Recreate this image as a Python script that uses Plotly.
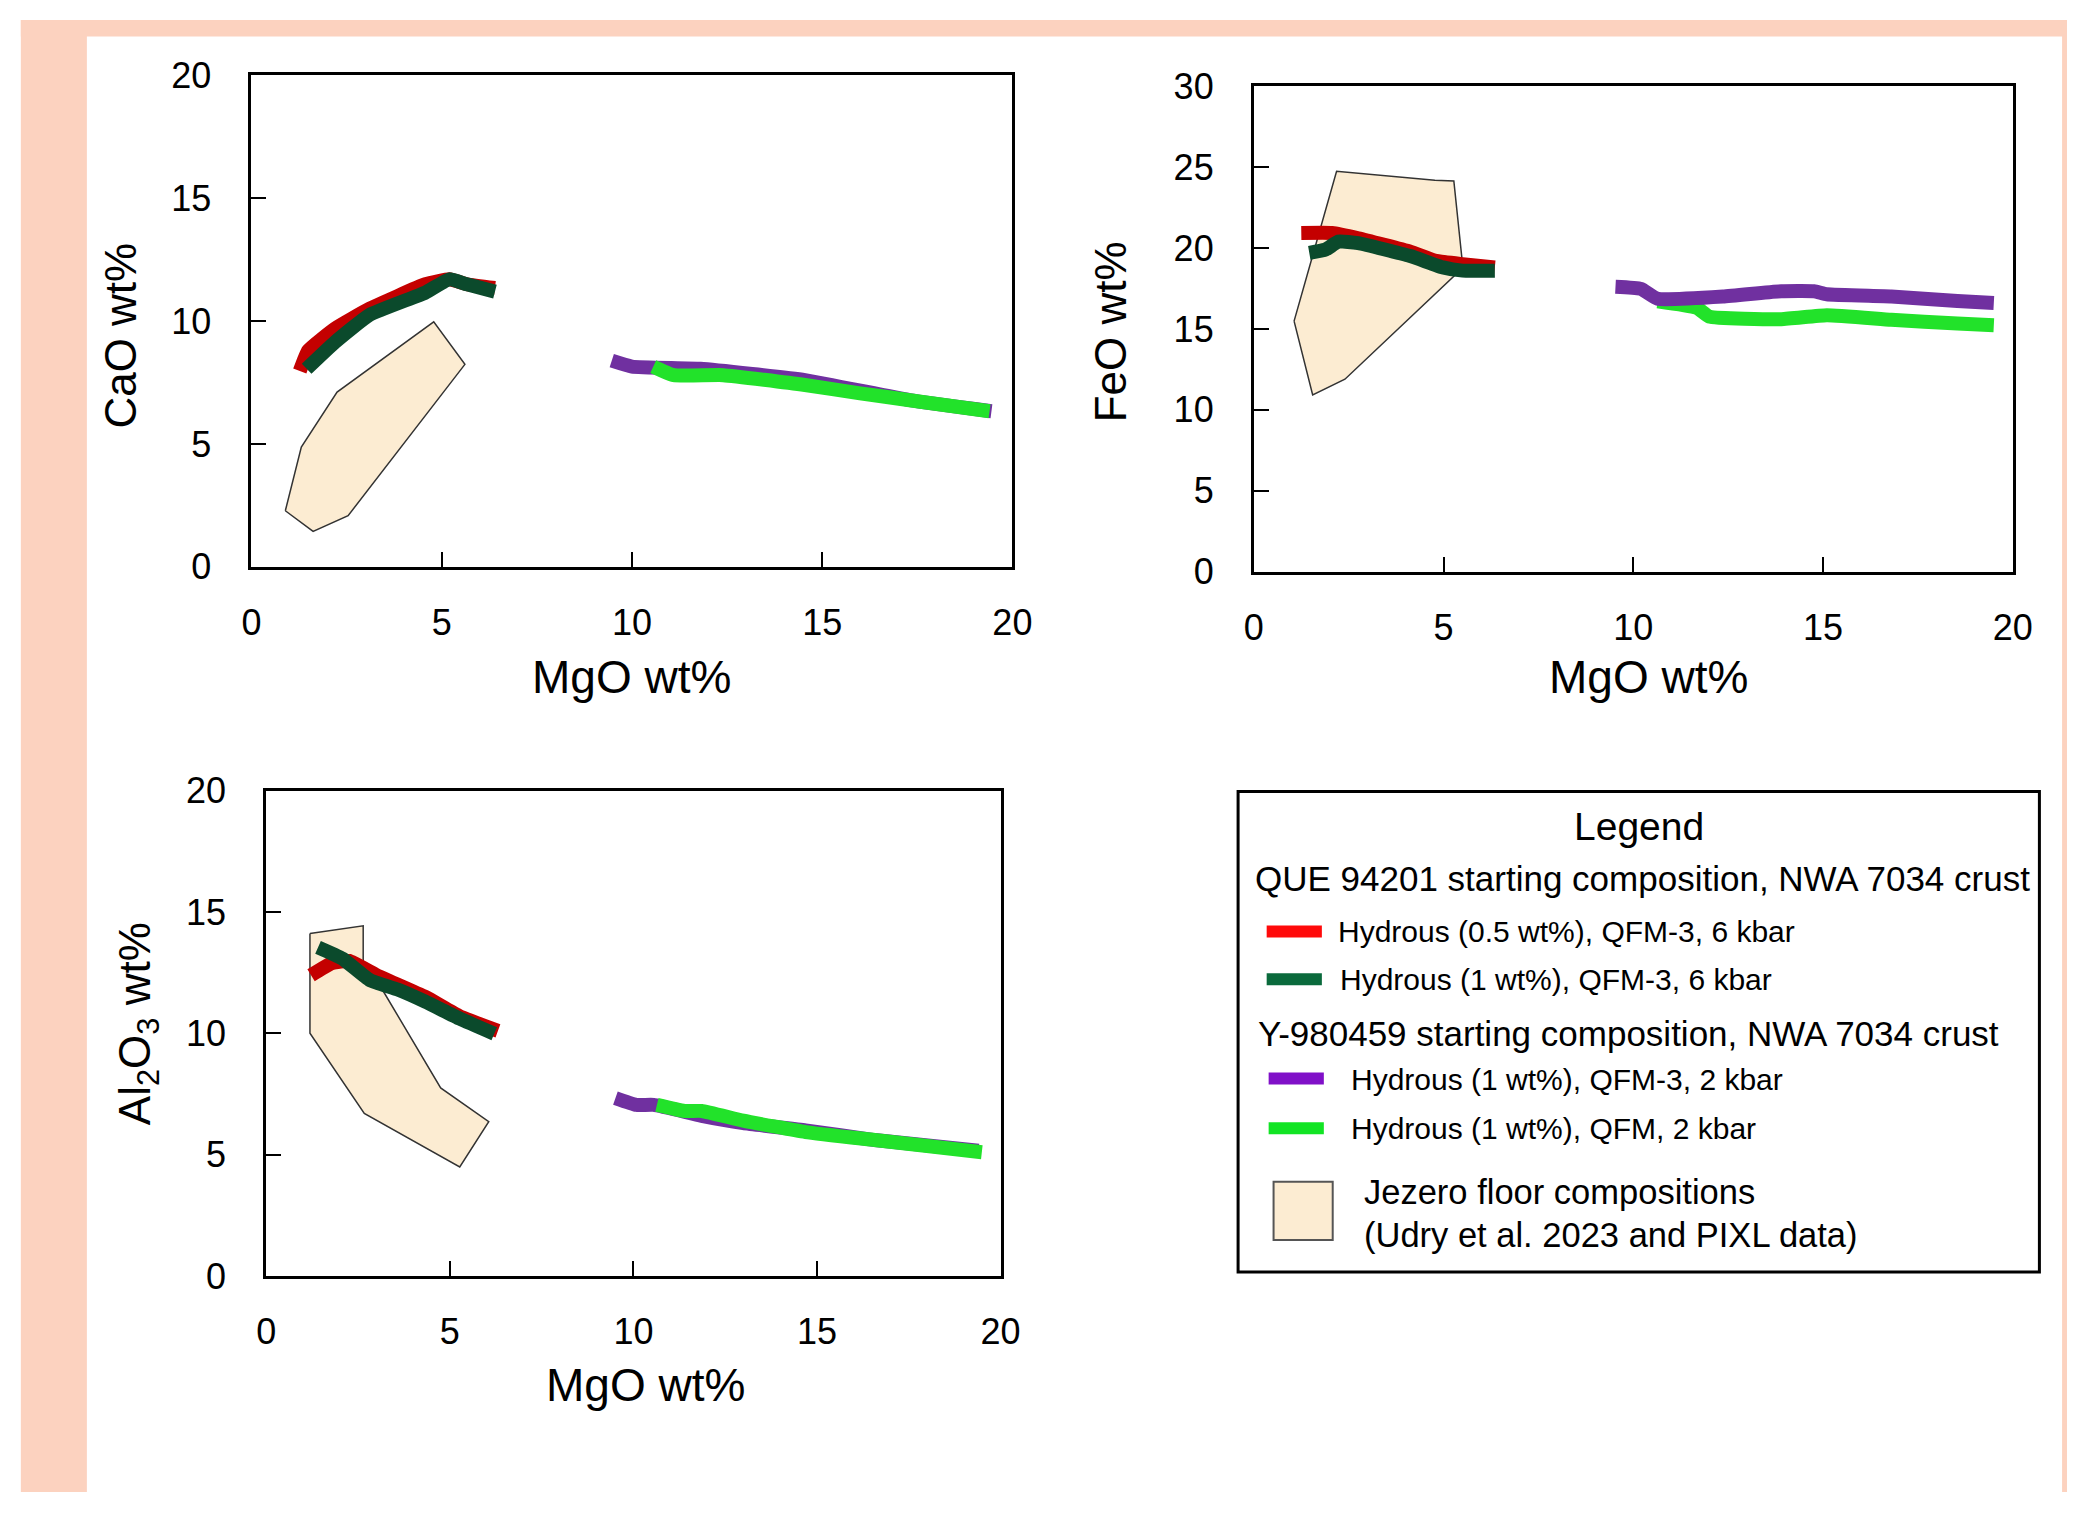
import plotly.graph_objects as go

W, H = 2087, 1513

# ---------------- data ----------------
# CaO vs MgO
cao_red_x = [1.27, 1.49, 2.2, 3.1, 4.57, 5.2, 5.66, 6.4]
cao_red_y = [7.97, 8.8, 9.7, 10.5, 11.5, 11.7, 11.5, 11.35]
cao_dkg_x = [1.45, 2.2, 3.1, 4.57, 5.2, 5.66, 6.4]
cao_dkg_y = [8.06, 9.15, 10.25, 11.16, 11.7, 11.5, 11.2]
cao_pur_x = [9.47, 10.0, 11.8, 14.55, 17.3, 19.45]
cao_pur_y = [8.39, 8.15, 8.06, 7.6, 6.78, 6.33]
cao_grn_x = [10.56, 11.1, 12.4, 14.55, 16.0, 17.3, 19.4]
cao_grn_y = [8.15, 7.8, 7.8, 7.4, 7.06, 6.78, 6.33]
cao_poly_x = [0.89, 1.31, 2.25, 4.79, 5.61, 2.54, 1.62, 0.89]
cao_poly_y = [2.28, 4.87, 7.11, 9.97, 8.24, 2.08, 1.44, 2.28]

# FeO vs MgO
feo_red_x = [1.25, 2.06, 2.75, 4.12, 4.8, 5.5, 6.35]
feo_red_y = [20.93, 20.93, 20.6, 19.77, 19.2, 19.0, 18.8]
feo_dkg_x = [1.46, 1.89, 2.23, 2.75, 4.12, 4.98, 5.5, 6.35]
feo_dkg_y = [19.7, 19.9, 20.4, 20.3, 19.5, 18.8, 18.6, 18.6]
feo_pur_x = [9.53, 10.2, 10.64, 12.36, 13.9, 14.76, 15.1, 16.8, 18.54, 19.5]
feo_pur_y = [17.6, 17.47, 16.86, 17.0, 17.33, 17.33, 17.14, 17.0, 16.72, 16.6]
feo_grn_x = [10.64, 11.67, 12.0, 13.9, 15.1, 16.8, 18.54, 19.5]
feo_grn_y = [16.7, 16.3, 15.76, 15.6, 15.84, 15.56, 15.34, 15.23]
feo_poly_x = [1.06, 2.18, 4.77, 5.27, 5.49, 5.29, 2.4, 1.55, 1.06]
feo_poly_y = [15.48, 24.74, 24.19, 24.14, 19.2, 18.3, 11.89, 10.92, 15.48]

# Al2O3 vs MgO
al_red_x = [1.22, 1.79, 2.26, 3.01, 4.33, 5.27, 6.31]
al_red_y = [12.39, 12.89, 12.98, 12.39, 11.5, 10.7, 10.1]
al_dkg_x = [1.41, 2.07, 2.82, 3.58, 4.33, 5.27, 6.21]
al_dkg_y = [13.54, 13.08, 12.19, 11.8, 11.3, 10.6, 9.98]
al_pur_x = [9.51, 10.08, 10.55, 11.86, 12.99, 14.69, 16.57, 19.4]
al_pur_y = [7.33, 7.05, 7.05, 6.6, 6.3, 6.0, 5.6, 5.16]
al_grn_x = [10.64, 11.39, 11.86, 12.99, 14.69, 16.57, 19.49]
al_grn_y = [7.05, 6.8, 6.8, 6.4, 5.93, 5.6, 5.1]
al_poly_x = [1.19, 2.64, 2.64, 3.2, 4.75, 6.06, 5.27, 2.67, 1.19, 1.19]
al_poly_y = [14.11, 14.43, 12.98, 11.7, 7.75, 6.36, 4.49, 6.7, 10.0, 14.11]

x_ticks = [0, 5, 10, 15, 20]
y_ticks_20 = [0, 5, 10, 15, 20]
y_ticks_30 = [0, 5, 10, 15, 20, 25, 30]

series_names = ["Hydrous (0.5 wt%), QFM-3, 6 kbar",
                "Hydrous (1 wt%), QFM-3, 6 kbar",
                "Hydrous (1 wt%), QFM-3, 2 kbar",
                "Hydrous (1 wt%), QFM, 2 kbar"]
group_titles = ["QUE 94201 starting composition, NWA 7034 crust",
                "Y-980459 starting composition, NWA 7034 crust"]
poly_name = ["Jezero floor compositions", "(Udry et al. 2023 and PIXL data)"]

# ---------------- styling ----------------
FONT = "Liberation Sans, Arial, sans-serif"
C_RED, C_DKG, C_PUR, C_GRN = "#C40000", "#0B4A2C", "#7030A0", "#22E22A"
L_RED, L_DKG, L_PUR, L_GRN = "#FF0A0A", "#0A6A3C", "#8010C8", "#12E424"
TAN = "#FCECD2"
PEACH = "#FCD2BF"
LW = 14


def px(x):
    return x / W


def py(y):
    return 1 - y / H


fig = go.Figure()

panels = [
    dict(ax="", dom_x=(245, 1017), dom_y=(57, 562), yr=[0, 20], yt=y_ticks_20,
         poly=(cao_poly_x, cao_poly_y),
         lines=[(cao_red_x, cao_red_y, C_RED, 0), (cao_dkg_x, cao_dkg_y, C_DKG, 1),
                (cao_pur_x, cao_pur_y, C_PUR, 2), (cao_grn_x, cao_grn_y, C_GRN, 3)]),
    dict(ax="2", dom_x=(1262, 2032), dom_y=(68, 567), yr=[0, 30], yt=y_ticks_30,
         poly=(feo_poly_x, feo_poly_y),
         lines=[(feo_red_x, feo_red_y, C_RED, 0), (feo_dkg_x, feo_dkg_y, C_DKG, 1),
                (feo_grn_x, feo_grn_y, C_GRN, 3), (feo_pur_x, feo_pur_y, C_PUR, 2)]),
    dict(ax="3", dom_x=(260, 1005), dom_y=(792, 1291), yr=[0, 20], yt=y_ticks_20,
         poly=(al_poly_x, al_poly_y),
         lines=[(al_red_x, al_red_y, C_RED, 0), (al_dkg_x, al_dkg_y, C_DKG, 1),
                (al_pur_x, al_pur_y, C_PUR, 2), (al_grn_x, al_grn_y, C_GRN, 3)]),
]

layout_axes = {}
for p in panels:
    xa, ya = "x" + p["ax"], "y" + p["ax"]
    fig.add_trace(go.Scatter(x=p["poly"][0], y=p["poly"][1], mode="lines", fill="toself",
                             fillcolor=TAN, line=dict(color="#333333", width=1.5),
                             xaxis=xa, yaxis=ya, showlegend=False, name=" ".join(poly_name),
                             hoverinfo="skip"))
    for xs, ys, col, ni in p["lines"]:
        fig.add_trace(go.Scatter(x=xs, y=ys, mode="lines",
                                 line=dict(color=col, width=LW, shape="spline", smoothing=0.4),
                                 xaxis=xa, yaxis=ya, showlegend=False, name=series_names[ni]))
    common = dict(showline=True, mirror=True, linecolor="black", linewidth=3,
                  ticks="inside", ticklen=15, tickwidth=2, tickcolor="black",
                  showgrid=False, zeroline=False,
                  tickfont=dict(family=FONT, size=36, color="black"))
    layout_axes["xaxis" + p["ax"]] = dict(common, domain=[px(p["dom_x"][0]), px(p["dom_x"][1])],
                                          range=[0, 20], tickvals=x_ticks,
                                          anchor=ya, ticklabelstandoff=22)
    layout_axes["yaxis" + p["ax"]] = dict(common, domain=[py(p["dom_y"][1]), py(p["dom_y"][0])],
                                          range=p["yr"], tickvals=p["yt"],
                                          anchor=xa, ticklabelstandoff=30)

fig.update_layout(**layout_axes)

shapes = [
    dict(type="rect", xref="paper", yref="paper", x0=px(11), x1=px(78), y0=0, y1=1,
         fillcolor=PEACH, line=dict(width=0), layer="below"),
    dict(type="rect", xref="paper", yref="paper", x0=px(11), x1=1, y0=py(17), y1=1,
         fillcolor=PEACH, line=dict(width=0), layer="below"),
    dict(type="rect", xref="paper", yref="paper", x0=px(2082), x1=1, y0=0, y1=1,
         fillcolor=PEACH, line=dict(width=0), layer="below"),
    # legend box
    dict(type="rect", xref="paper", yref="paper", x0=px(1246), x1=px(2059), y0=py(1287), y1=py(793),
         fillcolor="white", line=dict(color="black", width=3), layer="below"),
]
leg_samples = [(1275, 1331, 937, L_RED), (1275, 1331, 986, L_DKG),
               (1277, 1333, 1088, L_PUR), (1277, 1333, 1139, L_GRN)]
for x0, x1, yy, col in leg_samples:
    shapes.append(dict(type="line", xref="paper", yref="paper", x0=px(x0), x1=px(x1),
                       y0=py(yy), y1=py(yy), line=dict(color=col, width=12)))
shapes.append(dict(type="rect", xref="paper", yref="paper", x0=px(1282), x1=px(1342),
                   y0=py(1254), y1=py(1194), fillcolor=TAN, line=dict(color="#555555", width=2)))
fig.update_layout(shapes=shapes)

ann = []


def text(t, x, y, size, xanchor="center", yanchor="middle", angle=0):
    ann.append(dict(text=t, x=px(x), y=py(y), xref="paper", yref="paper", showarrow=False,
                    xanchor=xanchor, yanchor=yanchor, textangle=angle,
                    font=dict(family=FONT, size=size, color="black")))


# axis titles
text("MgO wt%", 631, 675, 46)
text("CaO wt%", 112, 324, 44, angle=-90)
text("MgO wt%", 1662, 675, 46)
text("FeO wt%", 1116, 320, 44, angle=-90)
text("MgO wt%", 645, 1403, 46)
text("Al<sub>2</sub>O<sub>3</sub> wt%", 130, 1032, 44, angle=-90)

# legend text
text("Legend", 1653, 829, 39)
text(group_titles[0], 1261, 882, 35, xanchor="left")
text(series_names[0], 1345, 937, 30, xanchor="left")
text(series_names[1], 1347, 986, 30, xanchor="left")
text(group_titles[1], 1264, 1042, 35, xanchor="left")
text(series_names[2], 1359, 1089, 30, xanchor="left")
text(series_names[3], 1359, 1139, 30, xanchor="left")
text(poly_name[0], 1372, 1205, 34.5, xanchor="left")
text(poly_name[1], 1372, 1249, 34.5, xanchor="left")
fig.update_layout(annotations=ann)

fig.update_layout(width=W, height=H, margin=dict(l=0, r=0, t=0, b=0),
                  paper_bgcolor="white", plot_bgcolor="white", showlegend=False)

css_js = (
    "var s=document.createElement('style');"
    "s.innerHTML='html,body{margin:0 !important;padding:0 !important;overflow:hidden !important;}';"
    "document.head.appendChild(s);"
)
fig.write_html("out.html", config={"displayModeBar": False}, post_script=css_js)
